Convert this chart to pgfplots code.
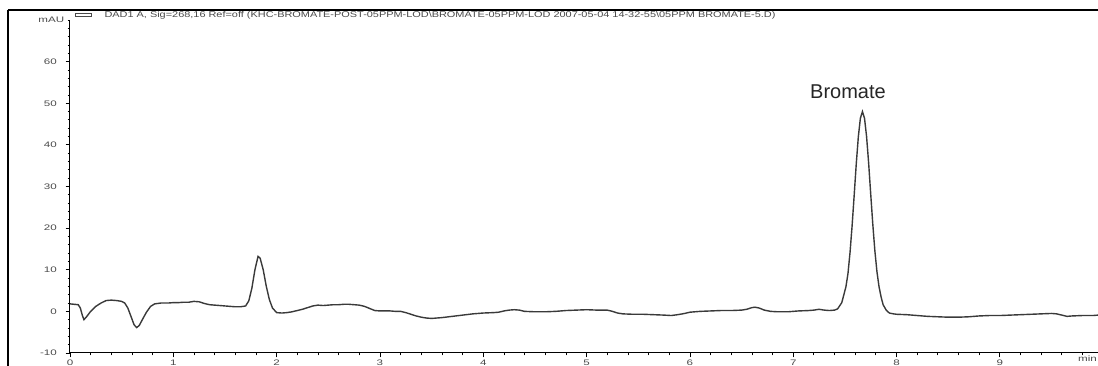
\documentclass[border=0pt]{standalone}
\usepackage{pgfplots}
\pgfplotsset{compat=1.18}
\usepackage{fontspec}
\setmainfont{Liberation Sans}
\definecolor{trace}{HTML}{3A3A3A}
\definecolor{ttl}{HTML}{4A4A4A}
\begin{document}
\begin{tikzpicture}
\begin{axis}[
  name=ax,
  scale only axis,
  width=514pt, height=166.5pt,
  xmin=0, xmax=9.95, ymin=-10, ymax=70,
  axis lines=left,
  axis line style={-, line width=0.5pt, black},
  tick align=outside,
  major tick length=2.2pt, minor tick length=1.2pt,
  tick style={line width=0.4pt, black},
  xtick={0,1,...,9}, ytick={-10,0,...,60},
  minor xtick={0.2,0.4,0.6,0.8,1.2,1.4,1.6,1.8,2.2,2.4,2.6,2.8,3.2,3.4,3.6,3.8,4.2,4.4,4.6,4.8,5.2,5.4,5.6,5.8,6.2,6.4,6.6,6.8,7.2,7.4,7.6,7.8,8.2,8.4,8.6,8.8,9.2,9.4,9.6,9.8},
  minor ytick={-8,-6,-4,-2,2,4,6,8,12,14,16,18,22,24,26,28,32,34,36,38,42,44,46,48,52,54,56,58,62,64,66,68,70},
  /pgf/number format/assume math mode=true,
  ticklabel style={font=\fontsize{4}{5}\selectfont, text=ttl, xscale=1.45},
  xticklabel style={yshift=2.4pt},
  yticklabel style={xshift=0.5pt},
  clip=false,
]
\addplot[trace, line width=0.7pt] coordinates {
(0.00,1.8)(0.04,1.7)(0.08,1.6)(0.10,0.8)(0.12,-1.0)(0.135,-2.0)(0.16,-1.3)(0.20,0.0)(0.25,1.2)(0.30,2.0)
(0.35,2.6)(0.40,2.7)(0.45,2.6)(0.50,2.4)(0.53,2.0)(0.56,0.8)(0.59,-1.2)(0.62,-3.2)(0.645,-3.9)(0.67,-3.4)
(0.70,-2.0)(0.74,-0.2)(0.78,1.2)(0.82,1.8)(0.88,2.0)(0.95,2.0)(1.00,2.1)(1.05,2.1)(1.10,2.2)(1.15,2.2)
(1.20,2.4)(1.25,2.3)(1.30,1.9)(1.35,1.6)(1.40,1.5)(1.45,1.4)(1.50,1.3)(1.55,1.2)(1.60,1.1)(1.65,1.1)
(1.70,1.3)(1.73,2.5)(1.76,5.5)(1.79,10.0)(1.82,13.2)(1.84,12.8)(1.87,10.0)(1.90,6.0)(1.93,2.8)(1.96,0.8)
(2.00,-0.3)(2.05,-0.4)(2.10,-0.3)(2.15,-0.1)(2.20,0.2)(2.25,0.5)(2.30,0.9)(2.35,1.3)(2.40,1.5)(2.45,1.4)
(2.50,1.5)(2.55,1.6)(2.60,1.6)(2.65,1.7)(2.70,1.7)(2.75,1.6)(2.80,1.5)(2.85,1.2)(2.90,0.7)(2.95,0.2)
(3.00,0.1)(3.05,0.1)(3.10,0.1)(3.15,0.0)(3.20,0.0)(3.25,-0.3)(3.30,-0.7)(3.35,-1.1)(3.40,-1.4)(3.45,-1.6)
(3.50,-1.7)(3.55,-1.6)(3.60,-1.5)(3.70,-1.2)(3.80,-0.9)(3.90,-0.6)(4.00,-0.4)(4.10,-0.3)(4.15,-0.2)(4.20,0.1)
(4.25,0.3)(4.30,0.4)(4.35,0.3)(4.40,0.0)(4.50,-0.1)(4.60,-0.1)(4.70,0.0)(4.80,0.2)(4.90,0.3)(5.00,0.4)
(5.10,0.3)(5.20,0.3)(5.25,0.0)(5.30,-0.4)(5.35,-0.6)(5.45,-0.7)(5.55,-0.7)(5.65,-0.8)(5.75,-0.9)(5.82,-1.0)
(5.88,-0.8)(5.95,-0.5)(6.00,-0.2)(6.10,0.0)(6.20,0.1)(6.30,0.2)(6.40,0.2)(6.50,0.3)(6.55,0.5)(6.60,0.9)
(6.63,1.0)(6.67,0.8)(6.72,0.3)(6.78,0.0)(6.85,-0.1)(6.95,-0.1)(7.05,0.1)(7.15,0.2)(7.20,0.3)(7.25,0.5)
(7.30,0.3)(7.35,0.2)(7.40,0.3)(7.43,0.6)(7.47,2.1)(7.51,5.9)(7.53,9.1)(7.55,14.2)(7.57,20.6)(7.59,27.9)
(7.61,35.4)(7.63,41.9)(7.65,46.4)(7.67,48.0)(7.69,46.4)(7.71,42.0)(7.73,35.6)(7.75,28.2)(7.77,21.0)(7.79,14.6)
(7.81,9.6)(7.83,6.0)(7.85,3.5)(7.87,1.6)(7.90,0.3)(7.93,-0.4)(7.97,-0.6)(8.00,-0.7)
(8.10,-0.8)(8.20,-1.0)(8.30,-1.2)(8.40,-1.3)(8.50,-1.4)(8.60,-1.4)(8.70,-1.3)(8.80,-1.1)(8.90,-1.0)(9.00,-1.0)
(9.10,-0.9)(9.20,-0.8)(9.30,-0.7)(9.40,-0.6)(9.50,-0.5)(9.55,-0.6)(9.60,-0.9)(9.65,-1.2)(9.70,-1.1)(9.80,-1.0)
(9.90,-1.0)(9.95,-0.9)
};
\node[anchor=base, font=\fontsize{10}{12}\selectfont, text=black!85] at (axis cs:7.53,51.2) {Bromate};
\node[anchor=east, font=\fontsize{4}{5}\selectfont, xscale=1.45, text=ttl, inner sep=0pt] at ([xshift=-2.6pt]rel axis cs:0,1) {mAU};
\node[anchor=north east, font=\fontsize{4}{5}\selectfont, xscale=1.45, text=ttl, inner sep=0pt] at ([xshift=-0.3pt,yshift=-1.3pt]rel axis cs:1,0) {min};
\end{axis}
% frame lines of the report
\draw[line width=0.6pt, black] ([xshift=-31pt,yshift=5pt]ax.north west) -- ([xshift=-31pt,yshift=-20pt]ax.south west);
\draw[line width=0.6pt, black] ([xshift=-31pt,yshift=5pt]ax.north west) -- ([yshift=5pt]ax.north east);
% title line
\draw[line width=0.4pt, ttl] ([xshift=2.5pt,yshift=1.6pt]ax.north west) rectangle ([xshift=10.5pt,yshift=3.2pt]ax.north west);
\node[anchor=west, inner sep=0pt, font=\fontsize{4.2}{5}\selectfont, xscale=1.3, text=ttl] at ([xshift=17pt,yshift=2.4pt]ax.north west) {DAD1 A, Sig=268,16 Ref=off (KHC-BROMATE-POST-05PPM-LOD\textbackslash BROMATE-05PPM-LOD 2007-05-04 14-32-55\textbackslash 05PPM BROMATE-5.D)};
\pgfresetboundingbox
\path[use as bounding box] ([xshift=-35pt,yshift=-6.5pt]ax.south west) rectangle ([yshift=10pt]ax.north east);
\end{tikzpicture}
\end{document}
